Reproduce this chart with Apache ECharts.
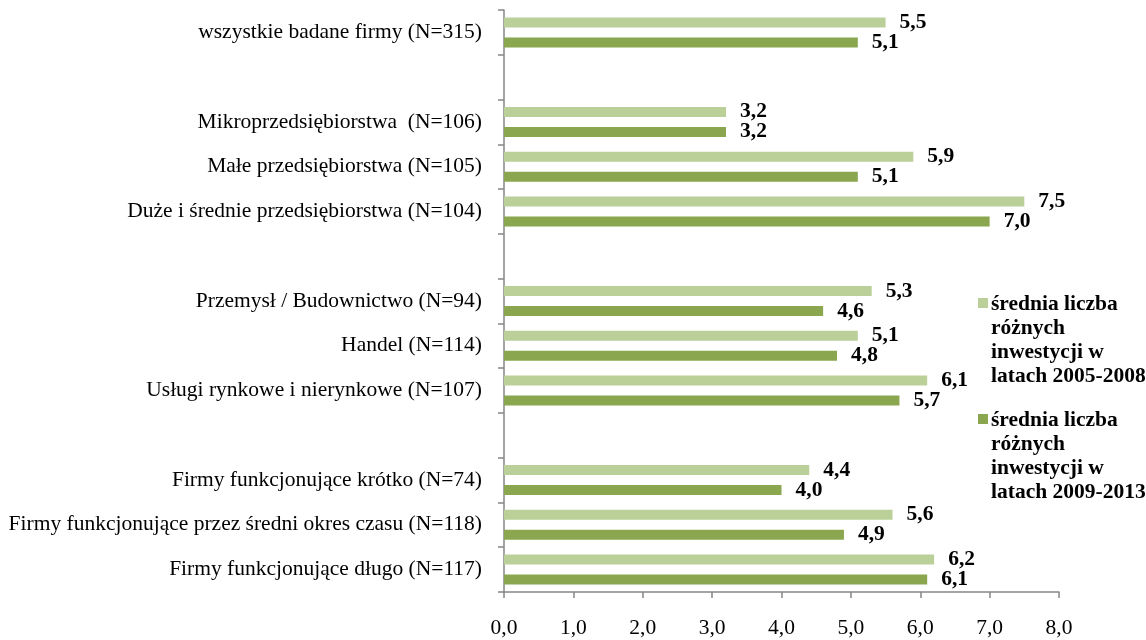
<!DOCTYPE html>
<html>
<head>
<meta charset="utf-8">
<script src="https://cdn.jsdelivr.net/npm/echarts@6/dist/echarts.min.js"></script>
<style>
  html, body { margin: 0; padding: 0; background: #fff; }
  #chart { width: 1146px; height: 640px; }
</style>
</head>
<body>
<div id="chart"></div>
<script>
// kategorie (puste pozycje = odstep miedzy grupami)
var categories = [
  'wszystkie badane firmy (N=315)',
  '',
  'Mikroprzedsiębiorstwa  (N=106)',
  'Małe przedsiębiorstwa (N=105)',
  'Duże i średnie przedsiębiorstwa (N=104)',
  '',
  'Przemysł / Budownictwo (N=94)',
  'Handel (N=114)',
  'Usługi rynkowe i nierynkowe (N=107)',
  '',
  'Firmy funkcjonujące krótko (N=74)',
  'Firmy funkcjonujące przez średni okres czasu (N=118)',
  'Firmy funkcjonujące długo (N=117)'
];
var seriesNames = [
  'średnia liczba\nróżnych\ninwestycji w\nlatach 2005-2008',
  'średnia liczba\nróżnych\ninwestycji w\nlatach 2009-2013'
];
var values2005 = [5.5, '-', 3.2, 5.9, 7.5, '-', 5.3, 5.1, 6.1, '-', 4.4, 5.6, 6.2];
var values2009 = [5.1, '-', 3.2, 5.1, 7.0, '-', 4.6, 4.8, 5.7, '-', 4.0, 4.9, 6.1];
var xTicks = [0, 1, 2, 3, 4, 5, 6, 7, 8];

var FONT = '"Liberation Serif", "Times New Roman", serif';
var FS = 21.5;
var fmt = function (v) { return Number(v).toFixed(1).replace('.', ','); };

var myChart = echarts.init(document.getElementById('chart'));

var labelStyle = {
  show: true,
  position: 'right',
  distance: 14,
  fontFamily: FONT,
  fontSize: FS,
  fontWeight: 'bold',
  color: '#000',
  formatter: function (p) { return fmt(p.value); }
};

// ikonka legendy ustawiona przy pierwszej linii tekstu
var legendIcon = 'path://M0,0L0.01,0M0,6L10,6L10,16L0,16ZM0,96L0.01,96';

var option = {
  backgroundColor: '#fff',
  animation: false,
  grid: {
    left: 504,
    right: 87,
    top: 10,
    bottom: 48,
    containLabel: false
  },
  legend: {
    orient: 'vertical',
    left: 973,
    top: 287,
    itemWidth: 10,
    itemHeight: 96,
    itemGap: 20,
    icon: legendIcon,
    data: seriesNames,
    textStyle: {
      fontFamily: FONT,
      fontSize: FS,
      fontWeight: 'bold',
      color: '#000',
      lineHeight: 24,
      padding: [0, 0, 0, -2]
    }
  },
  xAxis: {
    type: 'value',
    min: xTicks[0],
    max: xTicks[xTicks.length - 1],
    interval: 1,
    splitLine: { show: false },
    axisLine: { show: true, lineStyle: { color: '#868686', width: 1.5 } },
    axisTick: { show: true, length: 6, lineStyle: { color: '#868686', width: 1.5 } },
    axisLabel: {
      margin: 25,
      fontFamily: FONT,
      fontSize: FS,
      color: '#000',
      formatter: function (v) { return fmt(v); }
    }
  },
  yAxis: {
    type: 'category',
    inverse: true,
    data: categories,
    axisLine: { show: true, lineStyle: { color: '#868686', width: 1.5 } },
    axisTick: { show: true, length: 6, lineStyle: { color: '#868686', width: 1.5 } },
    axisLabel: {
      margin: 22,
      fontFamily: FONT,
      fontSize: FS,
      color: '#000'
    }
  },
  series: [{
    name: seriesNames[0],
    type: 'bar',
    data: values2005,
    barWidth: 10,
    barGap: '100%',
    itemStyle: { color: '#BBCF99' },
    label: labelStyle
  }, {
    name: seriesNames[1],
    type: 'bar',
    data: values2009,
    barWidth: 10,
    barGap: '100%',
    itemStyle: { color: '#8AA750' },
    label: labelStyle
  }]
};

myChart.setOption(option, true);
</script>
</body>
</html>
